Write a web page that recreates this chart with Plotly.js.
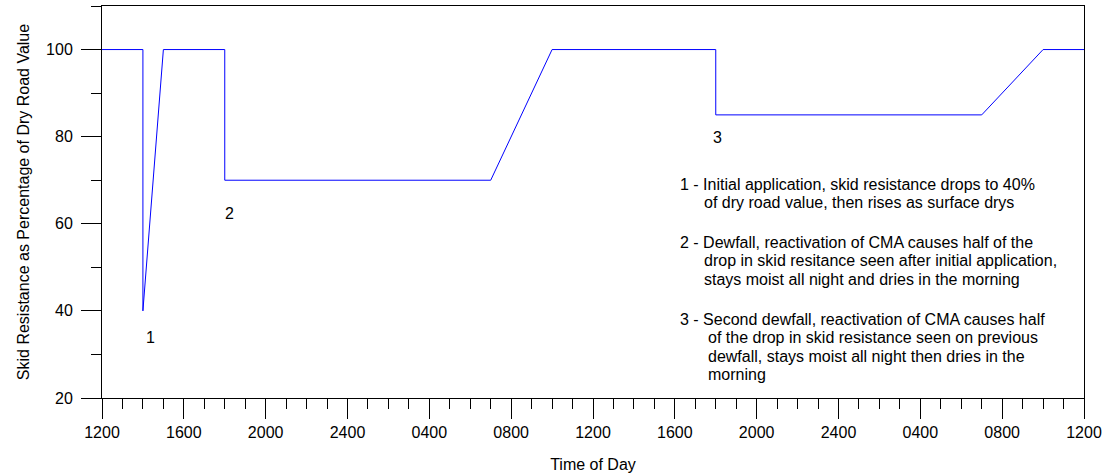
<!DOCTYPE html>
<html>
<head>
<meta charset="utf-8">
<script src="https://cdn.plot.ly/plotly-3.0.1.min.js"></script>
<style>
  html, body { margin: 0; padding: 0; background: #fff; }
  #chart { width: 1109px; height: 473px; }
</style>
</head>
<body>
<div id="chart"></div>
<script>
// Hours elapsed since 1200 on the first day, and skid resistance (% of dry road value)
const hours = [0, 2, 2, 3, 6, 6, 19, 22, 30, 30, 43, 46, 48];
const skidResistance = [100, 100, 40, 100, 100, 70, 70, 100, 100, 85, 85, 100, 100];

// Major x ticks every four hours, labelled as clock times
const tickHours = [0, 4, 8, 12, 16, 20, 24, 28, 32, 36, 40, 44, 48];
const tickLabels = ['1200', '1600', '2000', '2400', '0400', '0800', '1200',
                    '1600', '2000', '2400', '0400', '0800', '1200'];

// Event markers on the curve
const eventLabels = ['1', '2', '3'];

// Explanatory notes, one entry per event, split into printed lines
const notes = [
  ['1 - Initial application, skid resistance drops to 40%',
   'of dry road value, then rises as surface drys'],
  ['2 - Dewfall, reactivation of CMA causes half of the',
   'drop in skid resitance seen after initial application,',
   'stays moist all night and dries in the morning'],
  ['3 - Second dewfall, reactivation of CMA causes half',
   'of the drop in skid resistance seen on previous',
   'dewfall, stays moist all night then dries in the',
   'morning']
];

// ---- placement (paper fractions of the plot area) ----
const eventPos = [[0.0496, 0.1556], [0.1303, 0.4719], [0.6272, 0.6645]];
const notePos = {
  firstX: 0.5864,
  indentX: [0.6106, 0.6106, 0.6150],
  // vertical centres of each printed line, in pixels from the page top
  lineCentres: [[184.5, 202.5], [242.5, 260.5, 279.5], [319.5, 337.5, 356.5, 374.5]]
};
const plotTop = 6, plotBottom = 398;
const pxToPaper = p => (plotBottom - p) / (plotBottom - plotTop);

const FONT = 'Arial, "Liberation Sans", sans-serif';
const TXT = { family: FONT, size: 16, color: '#000' };

const annotations = [];
eventLabels.forEach((t, i) => {
  annotations.push({
    x: eventPos[i][0], y: eventPos[i][1], xref: 'paper', yref: 'paper', text: t,
    xanchor: 'center', yanchor: 'middle', showarrow: false, font: TXT
  });
});
notes.forEach((lines, i) => {
  lines.forEach((line, j) => {
    annotations.push({
      x: j === 0 ? notePos.firstX : notePos.indentX[i],
      y: pxToPaper(notePos.lineCentres[i][j]),
      xref: 'paper', yref: 'paper', text: line,
      xanchor: 'left', yanchor: 'middle', align: 'left', showarrow: false,
      font: TXT
    });
  });
});

const trace = {
  x: hours, y: skidResistance, type: 'scatter', mode: 'lines',
  line: { color: '#0000ff', width: 1 }, hoverinfo: 'skip'
};

const layout = {
  width: 1109, height: 473,
  margin: { l: 102, r: 25, t: 6, b: 75 },
  paper_bgcolor: '#fff', plot_bgcolor: '#fff',
  showlegend: false,
  font: { family: FONT, color: '#000' },
  xaxis: {
    range: [0, 48], tickmode: 'array', tickvals: tickHours, ticktext: tickLabels,
    ticks: 'outside', ticklen: 20, tickwidth: 1, tickcolor: '#000',
    minor: { tickmode: 'linear', tick0: 0, dtick: 1, ticks: 'outside', ticklen: 10, tickwidth: 1, tickcolor: '#000', showgrid: false },
    showline: true, linecolor: '#000', linewidth: 1, mirror: true,
    showgrid: false, zeroline: false,
    tickfont: TXT,
    title: { text: 'Time of Day', font: TXT, standoff: 19 }
  },
  yaxis: {
    range: [20, 110], tickmode: 'array', tickvals: [20, 40, 60, 80, 100],
    ticks: 'outside', ticklen: 20, tickwidth: 1, tickcolor: '#000',
    minor: { tickmode: 'linear', tick0: 0, dtick: 10, ticks: 'outside', ticklen: 10, tickwidth: 1, tickcolor: '#000', showgrid: false },
    showline: true, linecolor: '#000', linewidth: 1, mirror: true,
    showgrid: false, zeroline: false,
    tickfont: TXT, ticklabelstandoff: 5,
    title: { text: 'Skid Resistance as Percentage of Dry Road Value', font: TXT, standoff: 12 }
  },
  annotations: annotations
};

Plotly.newPlot('chart', [trace], layout, { staticPlot: true, displayModeBar: false });
</script>
</body>
</html>
